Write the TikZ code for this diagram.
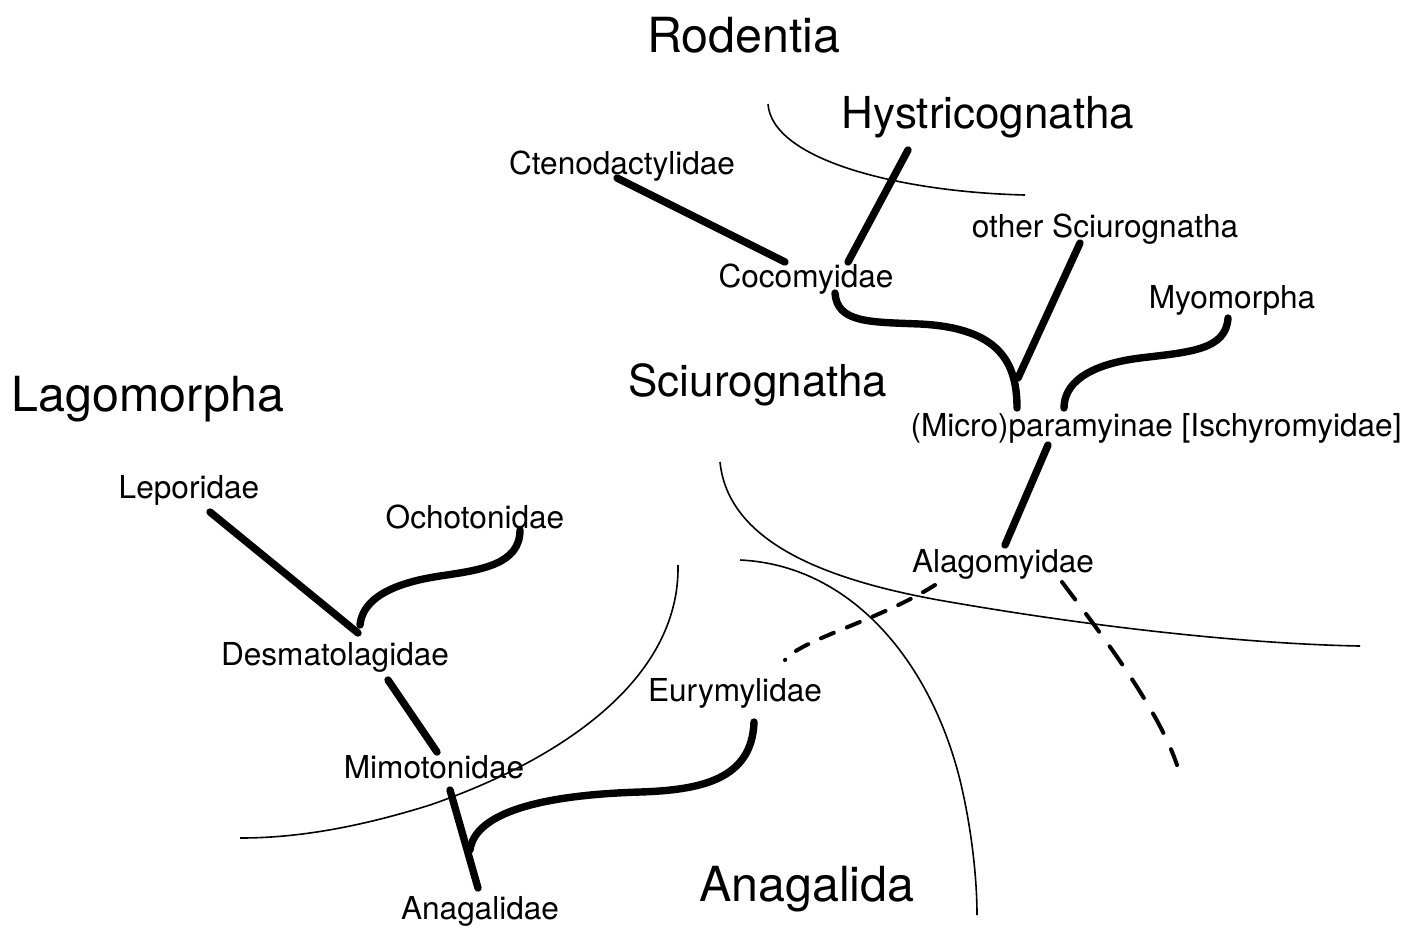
\documentclass[tikz,border=0pt]{standalone}
\usepackage{fontspec}
\setmainfont{TeX Gyre Heros}

\begin{document}
\begin{tikzpicture}[
  x=0.5pt, y=-0.5pt,
  taxon/.style={inner sep=0pt, font=\fontsize{15.8}{18}\selectfont},
  group/.style={inner sep=0pt, font=\fontsize{24.2}{28}\selectfont},
  subgroup/.style={group, font=\fontsize{22}{26}\selectfont},
  branch/.style={line width=3.7pt, line cap=round},
  guess/.style={line width=2pt, line cap=round},
  border/.style={line width=0.8pt}
]
\useasboundingbox (0,0) rectangle (1406,928);

% big group names
\node[group] (rodentia) at (744,35) {Rodentia};
\node[subgroup] (hystrico) at (988,117) {Hystricognatha};
\node[subgroup] (sciuro) at (758,385) {Sciurognatha};
\node[group] (lagomorpha) at (148,399) {Lagomorpha};
\node[group] (anagalida) at (807,889) {Anagalida};

% taxa
\node[taxon] (cten) at (622,166) {Ctenodactylidae};
\node[taxon] (coco) at (806,279) {Cocomyidae};
\node[taxon] (other) at (1105,229) {other Sciurognatha};
\node[taxon] (myo) at (1232,300) {Myomorpha};
\node[taxon] (para) at (1156,428) {(Micro)paramyinae [Ischyromyidae]};
\node[taxon] (alag) at (1003,564) {Alagomyidae};
\node[taxon] (lepo) at (189,490) {Leporidae};
\node[taxon] (ocho) at (475,517) {Ochotonidae};
\node[taxon] (desm) at (335,657) {Desmatolagidae};
\node[taxon] (eury) at (735,693) {Eurymylidae};
\node[taxon] (mimo) at (434,767) {Mimotonidae};
\node[taxon] (anag) at (480,911) {Anagalidae};
\coordinate (loose) at (1177,765);

% boundaries between groups
\draw[border] (768,104) .. controls (772,160) and (900,192) .. (1025,195);
\draw[border] (720,462) .. controls (728,540) and (820,580) .. (950,602)
  .. controls (1100,628) and (1250,644) .. (1360,646);
\draw[border] (740,560) .. controls (850,565) and (930,660) .. (960,780)
  .. controls (972,830) and (977,880) .. (977,915);
\draw[border] (678,565) .. controls (680,680) and (560,760) .. (430,805)
  .. controls (350,830) and (290,838) .. (240,838);

% rodent branches
\draw[branch] ([shift={(-5,12)}]cten.center) -- ([shift={(-21,-17)}]coco.center);
\draw[branch] ([shift={(-80,33)}]hystrico.center) -- ([shift={(42,-17)}]coco.center);
\draw[branch] ([shift={(29,14)}]coco.center) .. controls +(2,30) and +(-50,-2) .. ([shift={(-236,-104)}]para.center)
  .. controls +(80,4) and +(0,-45) .. ([shift={(-139,-20)}]para.center);
\draw[branch] ([shift={(-25,14)}]other.center) -- ([shift={(-138,-50)}]para.center);
\draw[branch] ([shift={(-4,18)}]myo.center) .. controls +(-2,32) and +(50,-6) .. ([shift={(-16,-70)}]para.center)
  .. controls +(-55,7) and +(0,-23) .. ([shift={(-92,-20)}]para.center);
\draw[branch] ([shift={(-108,17)}]para.center) -- ([shift={(2,-19)}]alag.center);

% uncertain links
\draw[guess, dash pattern=on 7pt off 7pt] ([shift={(-68,21)}]alag.center)
  .. controls +(-55,35) and +(15,-20) .. ([shift={(50,-33)}]eury.center);
\draw[guess, dash pattern=on 11pt off 9pt] ([shift={(59,18)}]alag.center)
  .. controls +(30,40) and +(-20,-60) .. (loose);

% lagomorph branches
\draw[branch] ([shift={(21,22)}]lepo.center) -- ([shift={(23,-24)}]desm.center);
\draw[branch] ([shift={(45,13)}]ocho.center) .. controls +(0,35) and +(40,-6) .. ([shift={(-35,59)}]ocho.center)
  .. controls +(-60,9) and +(2,-20) .. ([shift={(25,-32)}]desm.center);
\draw[branch] ([shift={(53,23)}]desm.center) -- ([shift={(3,-15)}]mimo.center);
\draw[branch] ([shift={(16,23)}]mimo.center) -- ([shift={(-2,-23)}]anag.center);
\draw[branch] ([shift={(19,29)}]eury.center) .. controls +(-2,58) and +(60,-2) .. ([shift={(-95,99)}]eury.center)
  .. controls +(-100,3) and +(5,-37) .. ([shift={(-10,-61)}]anag.center);
\end{tikzpicture}
\end{document}
